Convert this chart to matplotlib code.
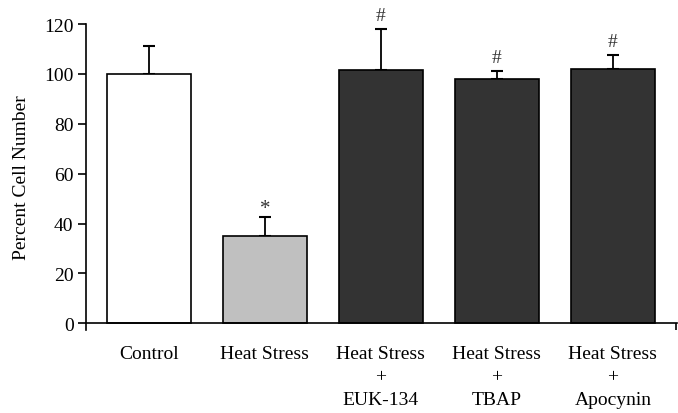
import matplotlib
matplotlib.use("Agg")
import matplotlib.pyplot as plt
import numpy as np

plt.rcParams['font.family'] = ['Liberation Serif', 'DejaVu Serif']

# data
labels = ['Control', 'Heat Stress', 'Heat Stress\n+\nEUK-134', 'Heat Stress\n+\nTBAP', 'Heat Stress\n+\nApocynin']
means = [100, 35, 101.5, 98, 102]
errors = [11, 7.7, 16.7, 3.2, 5.7]
marks = ['', '*', '#', '#', '#']
colors = ['white', '#c0c0c0', '#333333', '#333333', '#333333']

fig = plt.figure(figsize=(6.78, 4.14), dpi=100)
ax = fig.add_axes([0.127, 0.2005, 0.871, 0.739])

x = np.arange(len(labels))
ax.bar(x, means, width=0.72, color=colors, edgecolor='black', linewidth=1.2, zorder=2)
ax.errorbar(x, means, yerr=[np.zeros(len(errors)), errors], fmt='none',
            ecolor='black', elinewidth=1.3, capsize=4.3, capthick=1.5, zorder=1)

for xi, m, e, s in zip(x, means, errors, marks):
    if s:
        off = 2.0 if s == '#' else -0.6
        size = 14 if s == '#' else 15
        ax.text(xi, m + e + off, s, ha='center', va='bottom', fontsize=size, color='#333333')

ax.set_xlim(-0.54, 4.55)
ax.set_ylim(-2.7, 120)
ax.spines['bottom'].set_position(('data', 0))
ax.spines['top'].set_visible(False)
ax.spines['right'].set_visible(False)
ax.spines['left'].set_linewidth(1.2)
ax.spines['bottom'].set_linewidth(1.2)

ax.set_yticks(np.arange(0, 121, 20))
ax.tick_params(axis='y', direction='out', length=6, width=1.2, labelsize=14, pad=3)
ax.set_xticks(x)
ax.set_xticklabels(labels, fontsize=14, linespacing=1.45)
ax.tick_params(axis='x', which='major', length=0, pad=16)
# small tick at the right end of the x axis
ax.set_xticks([4.545], minor=True)
ax.tick_params(axis='x', which='minor', length=5, width=1.2, direction='out')

ax.set_ylabel('Percent Cell Number', fontsize=14, labelpad=10)

fig.savefig('out.png', dpi=100)
